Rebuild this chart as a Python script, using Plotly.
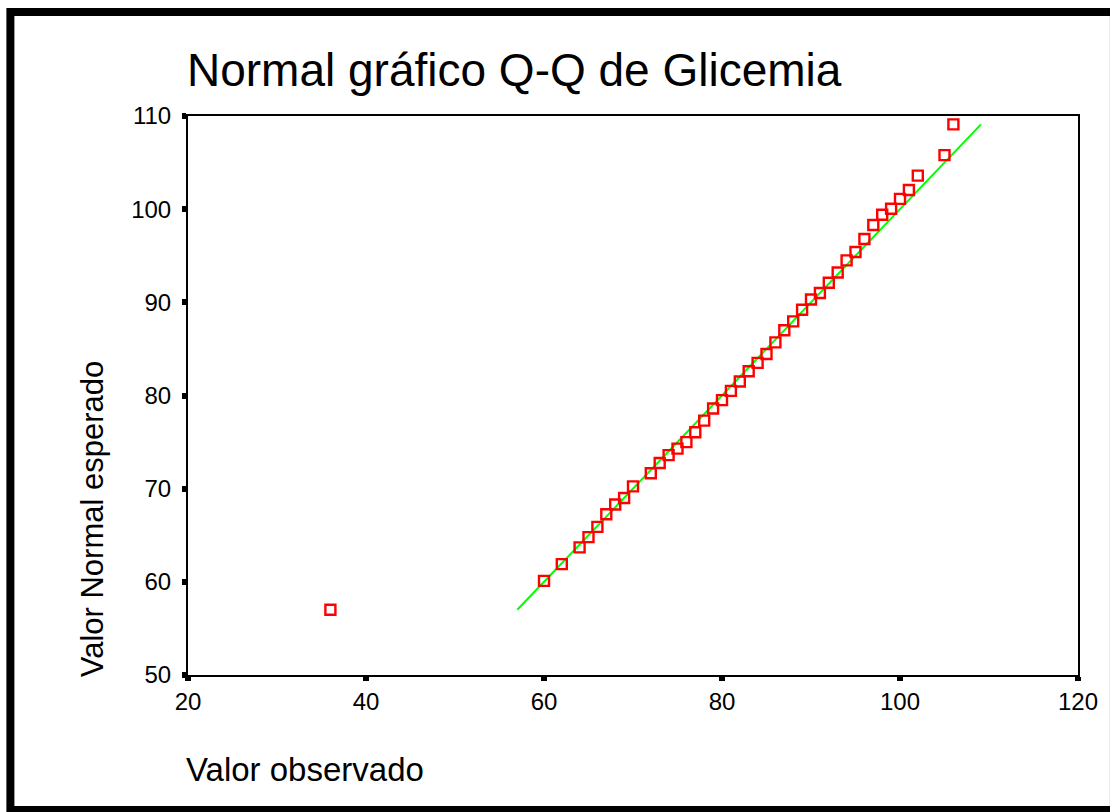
import plotly.graph_objects as go

observed = [36, 60, 62, 64, 65, 66, 67, 68, 69, 70, 72, 73, 74, 75, 76, 77, 78, 79,
            80, 81, 82, 83, 84, 85, 86, 87, 88, 89, 90, 91, 92, 93, 94, 95, 96, 97,
            98, 99, 100, 101, 102, 105, 106]
expected = [57.0, 60.1, 61.9, 63.7, 64.8, 65.9, 67.25, 68.3, 69.0, 70.25, 71.65, 72.75,
            73.6, 74.3, 75.0, 76.05, 77.3, 78.6, 79.5, 80.5, 81.5, 82.6, 83.5, 84.45,
            85.7, 87.0, 87.96, 89.2, 90.3, 91.0, 92.1, 93.2, 94.5, 95.4, 96.8, 98.3,
            99.4, 100.05, 101.1, 102.06, 103.6, 105.8, 109.1]
ref_line = [57.0, 109.1]

x_ticks = [20, 40, 60, 80, 100, 120]
y_ticks = [50, 60, 70, 80, 90, 100, 110]

title_text = "Normal gráfico Q-Q de Glicemia"
x_title = "Valor observado"
y_title = "Valor Normal esperado"

W, H = 1110, 812
L, R, T, B = 188, 1080, 116, 675


def px(xp):
    return (xp - L) / (R - L)


def py(yp):
    return (B - yp) / (B - T)


font = "Liberation Sans, Arial, sans-serif"

fig = go.Figure()
fig.add_trace(go.Scatter(x=ref_line, y=ref_line, mode="lines",
                         line=dict(color="#00ff00", width=2), hoverinfo="skip"))
fig.add_trace(go.Scatter(x=observed, y=expected, mode="markers",
                         marker=dict(symbol="square-open", size=10, color="#ff0000",
                                     line=dict(width=2.4, color="#ff0000"))))

axis_common = dict(showgrid=False, zeroline=False, showline=True, linecolor="black",
                   linewidth=2, mirror=True, ticks="outside", ticklen=4, tickwidth=6,
                   tickcolor="black", tickfont=dict(family=font, size=24, color="black"))

fig.update_xaxes(range=[20, 120], tickvals=x_ticks, ticktext=[str(v) for v in x_ticks],
                 **axis_common)
fig.update_yaxes(range=[50, 110], tickvals=y_ticks, ticktext=[str(v) for v in y_ticks],
                 ticklabelstandoff=6, **axis_common)

fig.update_layout(
    width=W, height=H,
    margin=dict(l=L, r=W - R, t=T, b=H - B, pad=0),
    paper_bgcolor="white", plot_bgcolor="white",
    showlegend=False,
    shapes=[dict(type="rect", xref="paper", yref="paper",
                 x0=px(10), x1=px(1116), y0=py(810), y1=py(12),
                 line=dict(color="black", width=8), fillcolor="rgba(0,0,0,0)")],
    annotations=[
        dict(text=title_text, xref="paper", yref="paper", x=px(185), y=py(70),
             xanchor="left", yanchor="middle", showarrow=False,
             font=dict(family=font, size=46, color="black")),
        dict(text=x_title, xref="paper", yref="paper", x=px(184), y=py(769),
             xanchor="left", yanchor="middle", showarrow=False,
             font=dict(family=font, size=33, color="black")),
        dict(text=y_title, xref="paper", yref="paper", x=px(92), y=py(679),
             xanchor="center", yanchor="bottom", textangle=-90, showarrow=False,
             font=dict(family=font, size=31, color="black")),
    ],
)

fig.write_html("out.html")
